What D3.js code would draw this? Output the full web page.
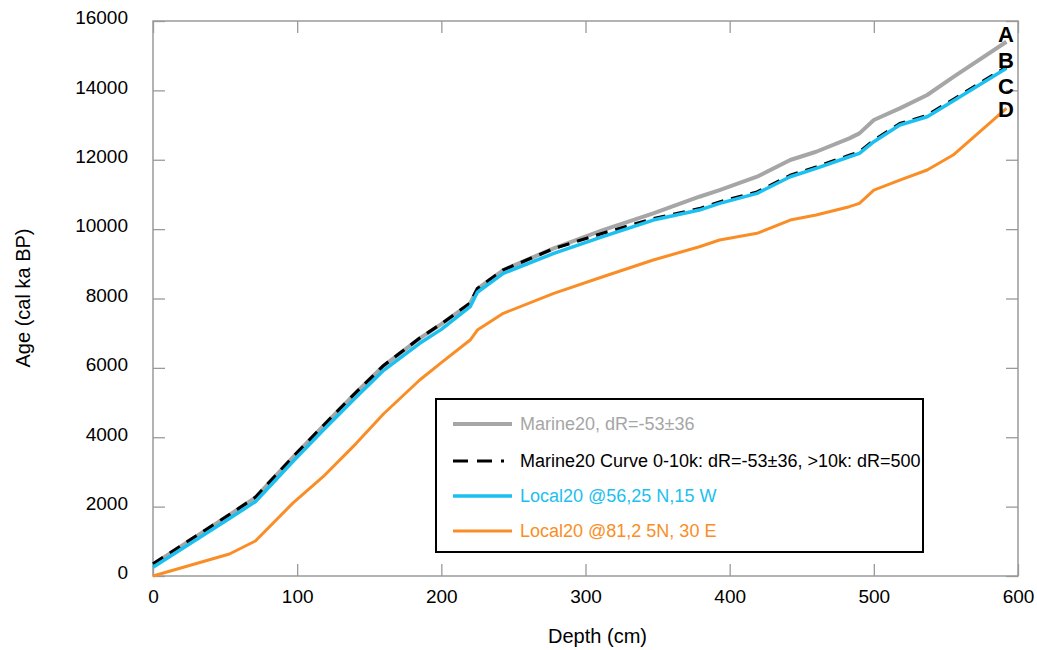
<!DOCTYPE html>
<html>
<head>
<meta charset="UTF-8">
<script src="https://d3js.org/d3.v7.min.js"></script>
<style>
    body { margin: 0; background: #fff; }
    text { font-family: "Liberation Sans", Arial, sans-serif; }
</style>
</head>
<body>
<svg id="main" width="1037" height="650"></svg>
<script>
// depth (cm)
var depths = [0, 53, 71, 97, 118, 141, 160, 185, 200, 220, 225, 243, 278, 312, 347, 379, 393, 419, 442, 460, 483, 490, 500, 518, 537, 555, 592];
// ages (cal BP) for each curve
var marine20 = [337, 1760, 2260, 3420, 4320, 5290, 6060, 6850, 7260, 7862, 8280, 8821, 9447, 9974, 10455, 10934, 11127, 11511, 11992, 12231, 12617, 12761, 13145, 13482, 13866, 14380, 15402];
var marineCurve = [350, 1770, 2270, 3430, 4330, 5300, 6070, 6860, 7270, 7870, 8285, 8825, 9440, 9880, 10300, 10590, 10784, 11071, 11551, 11792, 12127, 12225, 12561, 13041, 13281, 13737, 14675];
var local56 = [250, 1660, 2142, 3300, 4200, 5160, 5930, 6708, 7110, 7763, 8180, 8725, 9302, 9782, 10262, 10550, 10744, 11031, 11511, 11752, 12087, 12185, 12521, 13001, 13241, 13697, 14635];
var local81 = [0, 634, 1009, 2100, 2862, 3825, 4677, 5650, 6150, 6803, 7091, 7572, 8149, 8628, 9109, 9493, 9686, 9879, 10262, 10407, 10647, 10744, 11127, 11415, 11704, 12136, 13482];

var legendNames = ["Marine20, dR=-53\u00b136", "Marine20 Curve 0-10k: dR=-53\u00b136, >10k: dR=500", "Local20 @56,25 N,15 W", "Local20 @81,2 5N, 30 E"];
var endLetters = ["A", "B", "C", "D"];
var xTicks = [0, 100, 200, 300, 400, 500, 600];
var yTicks = [0, 2000, 4000, 6000, 8000, 10000, 12000, 14000, 16000];

var svg = d3.select("#main");
var pLeft = 153, pRight = 1018, pTop = 21, pBottom = 576;

var x = d3.scaleLinear().domain([0, 600]).range([pLeft, pRight]);
var y = d3.scaleLinear().domain([0, 16000]).range([pBottom, pTop]);

// frame + inward ticks on all sides
var axisColor = "#9a9a9a";
function styleAxis(g) {
    g.select(".domain").remove();
    g.selectAll(".tick line").attr("stroke", axisColor).attr("stroke-width", 1.3);
}
svg.append("g").attr("transform", "translate(0," + pBottom + ")")
    .call(d3.axisBottom(x).tickValues(xTicks).tickSize(-12).tickFormat(d3.format("d")))
    .call(styleAxis)
    .call(g => g.selectAll(".tick text").attr("font-size", 19).attr("fill", "#000").attr("y", 9).attr("dy", "0.95em"));
svg.append("g").attr("transform", "translate(0," + pTop + ")")
    .call(d3.axisTop(x).tickValues(xTicks).tickSize(-12).tickFormat(""))
    .call(styleAxis);
svg.append("g").attr("transform", "translate(" + pLeft + ",0)")
    .call(d3.axisLeft(y).tickValues(yTicks).tickSize(-12).tickFormat(d3.format("d")))
    .call(styleAxis)
    .call(g => g.selectAll(".tick text").attr("font-size", 19).attr("fill", "#000").attr("x", -25).attr("dy", "0.15em"));
svg.append("g").attr("transform", "translate(" + pRight + ",0)")
    .call(d3.axisRight(y).tickValues(yTicks).tickSize(-12).tickFormat(""))
    .call(styleAxis);
svg.append("rect")
    .attr("x", pLeft).attr("y", pTop).attr("width", pRight - pLeft).attr("height", pBottom - pTop)
    .attr("fill", "none").attr("stroke", axisColor).attr("stroke-width", 1.5);

// axis titles
svg.append("text").attr("x", (pLeft + pRight) / 2 + 12).attr("y", 643)
    .attr("text-anchor", "middle").attr("font-size", 20).text("Depth (cm)");
svg.append("text").attr("transform", "translate(30,298) rotate(-90)")
    .attr("text-anchor", "middle").attr("font-size", 20).text("Age (cal ka BP)");

// curves
var series = [
    {vals: marine20, color: "#a6a6a6", width: 4, dash: null},
    {vals: marineCurve, color: "#000000", width: 3.2, dash: "12,8"},
    {vals: local56, color: "#1cc0f0", width: 3.5, dash: null},
    {vals: local81, color: "#f98e26", width: 3, dash: null}
];
var line = d3.line().x(d => x(d[0])).y(d => y(d[1]));
series.forEach(function(s) {
    svg.append("path")
        .datum(depths.map((d, i) => [d, s.vals[i]]))
        .attr("d", line)
        .attr("fill", "none")
        .attr("stroke", s.color)
        .attr("stroke-width", s.width)
        .attr("stroke-linejoin", "round")
        .attr("stroke-dasharray", s.dash);
});

// end letters
var letterY = [34, 60, 86, 109];
endLetters.forEach(function(l, i) {
    svg.append("text").attr("x", 1006).attr("y", letterY[i]).attr("dy", "0.36em")
        .attr("text-anchor", "middle").attr("font-size", 22).attr("font-weight", "bold").text(l);
});

// legend
var lg = svg.append("g");
lg.append("rect").attr("x", 436).attr("y", 399).attr("width", 487).attr("height", 153)
    .attr("fill", "#fff").attr("stroke", "#000").attr("stroke-width", 2);
var legendTextColors = ["#a6a6a6", "#000000", "#1cc0f0", "#f98e26"];
var rowY = [424, 461, 496, 531];
series.forEach(function(s, i) {
    lg.append("line").attr("x1", 453).attr("x2", 512).attr("y1", rowY[i]).attr("y2", rowY[i])
        .attr("stroke", s.color).attr("stroke-width", s.width)
        .attr("stroke-dasharray", s.dash ? "15,9,15,9,3" : null);
    lg.append("text").attr("x", 520).attr("y", rowY[i]).attr("dy", "0.36em")
        .attr("font-size", 18).attr("fill", legendTextColors[i]).text(legendNames[i]);
});
</script>
</body>
</html>
